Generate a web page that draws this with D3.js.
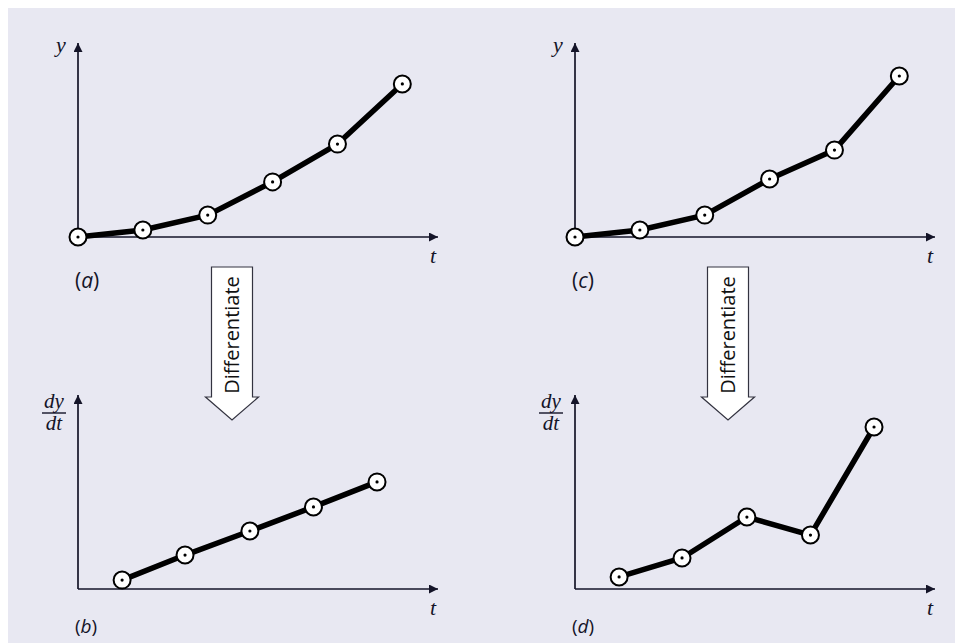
<!DOCTYPE html>
<html>
<head>
<meta charset="utf-8">
<script src="https://cdn.jsdelivr.net/npm/d3@7"></script>
<style>
  html, body { margin: 0; padding: 0; background: #ffffff; }
  svg { display: block; }
</style>
</head>
<body>
<svg id="fig" width="955" height="643"></svg>
<script>
// Sampled values of y(t) and their finite-difference derivatives
const tSamples = [0, 1, 2, 3, 4, 5];
const ySmooth = [0, 0.36, 1.13, 2.84, 4.79, 7.89];      // panel (a)
const ySteep = [0, 0.36, 1.13, 2.99, 4.48, 8.3];        // panel (c)
const tMid = [0.68, 1.65, 2.65, 3.63, 4.61];
const dSmooth = [0.46, 1.75, 2.99, 4.23, 5.52];         // panel (b)
const dSteep = [0.62, 1.6, 3.71, 2.78, 8.35];           // panel (d)
const panelLabels = ["a", "b", "c", "d"];
const arrowText = "Differentiate";

const svg = d3.select("#fig");
const W = 955, H = 643;
const bg = "#e8e8f2";
const ink = "#141428";
const serif = "'Liberation Serif', 'DejaVu Serif', serif";
const sans = "'Open Sans', 'Noto Sans', sans-serif";

svg.append("rect").attr("x", 8).attr("y", 8).attr("width", W - 8).attr("height", H - 8).attr("fill", bg);

const defs = svg.append("defs");
defs.append("marker")
  .attr("id", "axhead").attr("viewBox", "0 0 10 10")
  .attr("refX", 10).attr("refY", 5)
  .attr("markerWidth", 15).attr("markerHeight", 9)
  .attr("markerUnits", "userSpaceOnUse")
  .attr("orient", "auto")
  .append("path").attr("d", "M0,0 L10,5 L0,10 Z").attr("fill", ink);

const tDomain = [0, 5.55];
const vDomain = [0, 10];

const panels = [
  { ox: 78, oy: 237, t: tSamples, v: ySmooth, label: panelLabels[0], deriv: false },
  { ox: 78, oy: 589, t: tMid, v: dSmooth, label: panelLabels[1], deriv: true },
  { ox: 575, oy: 237, t: tSamples, v: ySteep, label: panelLabels[2], deriv: false },
  { ox: 575, oy: 589, t: tMid, v: dSteep, label: panelLabels[3], deriv: true }
];

panels.forEach(p => {
  const x = d3.scaleLinear().domain(tDomain).range([p.ox, p.ox + 360]);
  const y = d3.scaleLinear().domain(vDomain).range([p.oy, p.oy - 194]);
  const g = svg.append("g");

  // axes
  g.append("line").attr("x1", x(0)).attr("y1", y(0)).attr("x2", x(0)).attr("y2", y(10))
    .attr("stroke", ink).attr("stroke-width", 1.7).attr("marker-end", "url(#axhead)");
  g.append("line").attr("x1", x(0)).attr("y1", y(0)).attr("x2", x(tDomain[1])).attr("y2", y(0))
    .attr("stroke", ink).attr("stroke-width", 1.7).attr("marker-end", "url(#axhead)");

  // axis titles
  g.append("text").attr("x", x(tDomain[1]) - 8).attr("y", y(0) + 26)
    .attr("font-family", serif).attr("font-style", "italic")
    .attr("font-size", 22).attr("fill", ink).text("t");

  if (p.deriv) {
    const cx = x(0) - 24;
    g.append("text").attr("x", cx).attr("y", y(10) + 13).attr("text-anchor", "middle")
      .attr("font-family", serif).attr("font-style", "italic")
      .attr("font-size", 21).attr("fill", ink).text("dy");
    g.append("line").attr("x1", cx - 12).attr("x2", cx + 12).attr("y1", y(10) + 18).attr("y2", y(10) + 18)
      .attr("stroke", ink).attr("stroke-width", 1.4);
    g.append("text").attr("x", cx).attr("y", y(10) + 35).attr("text-anchor", "middle")
      .attr("font-family", serif).attr("font-style", "italic")
      .attr("font-size", 21).attr("fill", ink).text("dt");
  } else {
    g.append("text").attr("x", x(0) - 22).attr("y", y(10) + 9)
      .attr("font-family", serif).attr("font-style", "italic")
      .attr("font-size", 22).attr("fill", ink).text("y");
  }

  // panel tag (kept clear of the bottom edge on the lower row)
  const tag = g.append("text").attr("x", x(0) - 3).attr("y", y(0) + (p.deriv ? 44 : 51))
    .attr("font-family", sans).attr("font-size", p.deriv ? 19 : 21).attr("fill", ink);
  tag.append("tspan").text("(");
  tag.append("tspan").attr("font-style", "italic").text(p.label);
  tag.append("tspan").text(")");

  // data line
  const pts = p.t.map((t, i) => [t, p.v[i]]);
  g.append("path").datum(pts)
    .attr("d", d3.line().x(d => x(d[0])).y(d => y(d[1])))
    .attr("fill", "none").attr("stroke", "#000").attr("stroke-width", 5.5)
    .attr("stroke-linejoin", "round");

  // point markers
  const m = g.selectAll("g.pt").data(pts).join("g").attr("class", "pt")
    .attr("transform", d => `translate(${x(d[0])},${y(d[1])})`);
  m.append("circle").attr("r", 8.5).attr("fill", "#ffffff").attr("stroke", "#000").attr("stroke-width", 2);
  m.append("circle").attr("r", 1.6).attr("fill", "#000");
});

// "Differentiate" block arrows between the rows
[232, 728].forEach(cx => {
  const top = 267, shaftEnd = 397, tip = 420, hw = 20.5, headHw = 26.5;
  const g = svg.append("g");
  g.append("path")
    .attr("d", `M${cx - hw},${top} L${cx + hw},${top} L${cx + hw},${shaftEnd} L${cx + headHw},${shaftEnd} L${cx},${tip} L${cx - headHw},${shaftEnd} L${cx - hw},${shaftEnd} Z`)
    .attr("fill", "#ffffff").attr("stroke", "#333340").attr("stroke-width", 1.2);
  g.append("text")
    .attr("transform", `translate(${cx + 7},${(top + shaftEnd) / 2 + 3}) rotate(-90)`)
    .attr("text-anchor", "middle")
    .attr("font-family", sans).attr("font-size", 20).attr("fill", "#111")
    .text(arrowText);
});
</script>
</body>
</html>
